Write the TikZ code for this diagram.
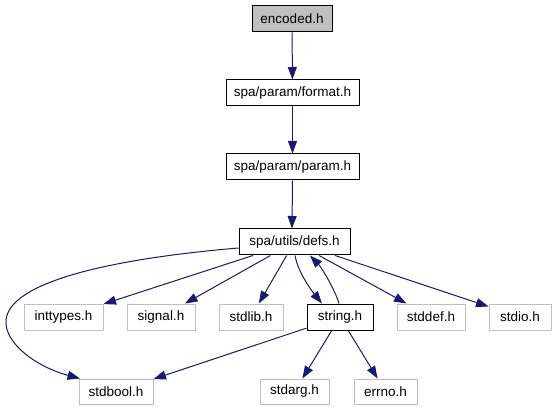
\documentclass[tikz,border=0pt]{standalone}
\usepackage{fontspec}
\setmainfont{Liberation Sans}
\usetikzlibrary{arrows.meta}
\definecolor{edgeblue}{HTML}{191970}
\definecolor{boxgray}{HTML}{BFBFBF}
\tikzset{
  filebox/.style={draw=black, line width=1pt, rectangle, inner sep=0pt, minimum height=26pt, font=\fontsize{13.5}{15}\selectfont},
  sysbox/.style={filebox, draw=boxgray},
  dep/.style={draw=edgeblue, line width=1pt, -{Triangle[length=12.5pt,width=9pt]}}
}
\begin{document}
\begin{tikzpicture}[x=1pt,y=-1pt]
\useasboundingbox (0,0) rectangle (556,411);
\node[filebox, fill=boxgray, minimum width=80pt] (enc) at (292,19) {encoded.h};
\node[filebox, minimum width=133pt] (fmt) at (292.5,93) {spa/param/format.h};
\node[filebox, minimum width=133pt] (par) at (292.5,167) {spa/param/param.h};
\node[filebox, minimum width=111pt] (defs) at (294.5,242) {spa/utils/defs.h};
\node[sysbox, minimum width=79pt] (intt) at (63.5,317) {inttypes.h};
\node[sysbox, minimum width=68pt] (sig) at (161,317) {signal.h};
\node[sysbox, minimum width=64pt] (stdlib) at (251,317) {stdlib.h};
\node[filebox, minimum width=66pt] (str) at (340,317) {string.h};
\node[sysbox, minimum width=68pt] (stddef) at (431,317) {stddef.h};
\node[sysbox, minimum width=62pt] (stdio) at (520,317) {stdio.h};
\node[sysbox, minimum width=74pt, minimum height=25pt] (stdbool) at (116,391.5) {stdbool.h};
\node[sysbox, minimum width=69pt, minimum height=25pt] (stdarg) at (294.5,391.5) {stdarg.h};
\node[sysbox, minimum width=63pt, minimum height=25pt] (errno) at (385.5,391.5) {errno.h};

\draw[dep] (enc) -- (fmt);
\draw[dep] (fmt) -- (par);
\draw[dep] (par.south) -- ([xshift=-2.5]defs.north);
\draw[dep] (defs) -- (intt);
\draw[dep] (defs) -- (sig);
\draw[dep] (defs) -- (stdlib);
\draw[dep] (defs) -- (stddef);
\draw[dep] (defs) -- (stdio);
\draw[dep] ([xshift=0.5]defs.south) .. controls (297,268) and (307,285) .. ([xshift=-18]str.north);
\draw[dep] ([xshift=-1]str.north) .. controls (335,290) and (322,268) .. ([xshift=15.5]defs.south);
\draw[dep] ([yshift=-6]defs.west) .. controls (120,258) and (10,280) .. (6,320) .. controls (4,345) and (40,368) .. ([xshift=-36]stdbool.north);
\draw[dep] (str) -- (stdbool);
\draw[dep] (str) -- (stdarg);
\draw[dep] (str) -- (errno);
\end{tikzpicture}
\end{document}
